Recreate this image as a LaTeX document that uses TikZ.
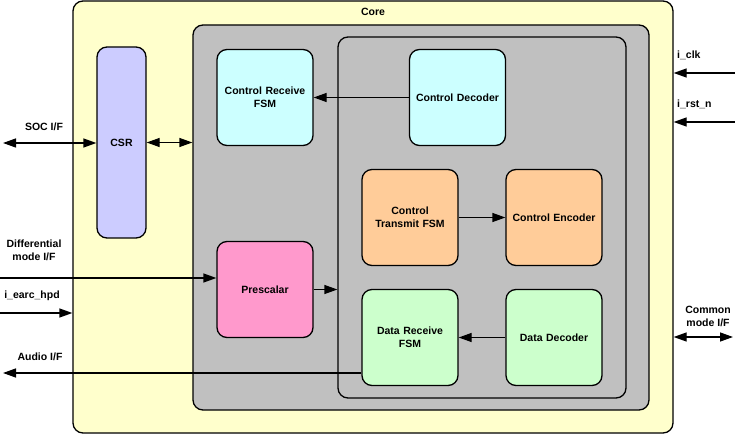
\documentclass[tikz,border=0pt]{standalone}
\usepackage{fontspec}
\setmainfont{Liberation Sans}
\usetikzlibrary{arrows.meta,positioning}
\definecolor{coreyellow}{HTML}{FFFFCC}
\definecolor{subgray}{HTML}{C0C0C0}
\definecolor{csrblue}{HTML}{CCCCFF}
\definecolor{ctlcyan}{HTML}{CCFFFF}
\definecolor{ctlorange}{HTML}{FFCC99}
\definecolor{prepink}{HTML}{FF99CC}
\definecolor{datgreen}{HTML}{CCFFCC}
\begin{document}
\begin{tikzpicture}[x=1pt,y=-1pt,node distance=144pt,font=\fontsize{10.5}{13}\selectfont\bfseries]
		\tikzset{area/.style={draw,line width=1.3pt,rounded corners=10pt,inner sep=0pt},
			blk/.style={area,minimum width=96pt,minimum height=96pt,text width=90pt,align=center},
			com/.style={line width=1.3pt,>={Triangle[length=13pt,width=9pt]}}}
		\useasboundingbox (0,0) rectangle (735,435);
		\node[area,fill=coreyellow,minimum width=600pt,minimum height=432pt] (core) at (373,217) {};
		\node (lcore) at (373,12) {Core};
		\node[area,fill=subgray,minimum width=456pt,minimum height=385pt] (gray) at (421,217.5) {};
		\node[area,fill=subgray,minimum width=288pt,minimum height=361pt] (inner) at (482,217.5) {};
		\node[area,fill=csrblue,minimum width=49pt,minimum height=191pt] (csr) at (121.5,142.5) {CSR};

		\node[blk,fill=ctlcyan] (crf) at (265,97.5) {Control Receive\\FSM};
		\node[blk,fill=ctlcyan] (cdec) [right of=crf,xshift=48.5pt] {Control Decoder};
		\node[blk,fill=ctlorange] (ctf) at (410,217.5) {Control\\Transmit FSM};
		\node[blk,fill=ctlorange] (cenc) [right of=ctf] {Control Encoder};
		\node[blk,fill=prepink] (pre) at (265,289.5) {Prescalar};
		\node[blk,fill=datgreen] (drf) at (410,337.5) {Data Receive\\FSM};
		\node[blk,fill=datgreen] (ddec) [right of=drf] {Data Decoder};

		% ports
		\coordinate (soc) at (3,143);
		\coordinate (dif) at (0,278);
		\coordinate (hpd) at (0,313);
		\coordinate (aud) at (3,373);
		\coordinate (clk) at (735,73);
		\coordinate (rst) at (735,122);
		\coordinate (cmm) at (733,337);
		\node (lsoc) at (44,127) {SOC I/F};
		\node[align=center] (ldif) at (34,250) {Differential\\mode I/F};
		\node (lhpd) at (32,296) {i\_earc\_hpd};
		\node (laud) at (40,357) {Audio I/F};
		\node[anchor=west,inner sep=0pt] (lclk) at (677,55) {i\_clk};
		\node[anchor=west,inner sep=0pt] (lrst) at (677,104) {i\_rst\_n};
		\node[align=center] (lcmm) at (708,316) {Common\\mode I/F};

		\draw[->,com] (cdec) -- (crf);
		\draw[->,com] (ctf) -- (cenc);
		\draw[->,com] (ddec) -- (drf);
		\draw[->,com] (pre.east) -- (pre.east -| inner.west);
		\draw[<->,com] (csr.east) -- (csr.east -| gray.west);
		\draw[<->,com] (soc) -- (soc -| csr.west);
		\draw[->,com] (dif) -- (dif -| pre.west);
		\draw[->,com] (hpd) -- (hpd -| core.west);
		\draw[->,com] (aud -| drf.west) -- (aud);
		\draw[->,com] (clk) -- (clk -| core.east);
		\draw[->,com] (rst) -- (rst -| core.east);
		\draw[<->,com] (cmm) -- (cmm -| core.east);
\end{tikzpicture}
\end{document}
